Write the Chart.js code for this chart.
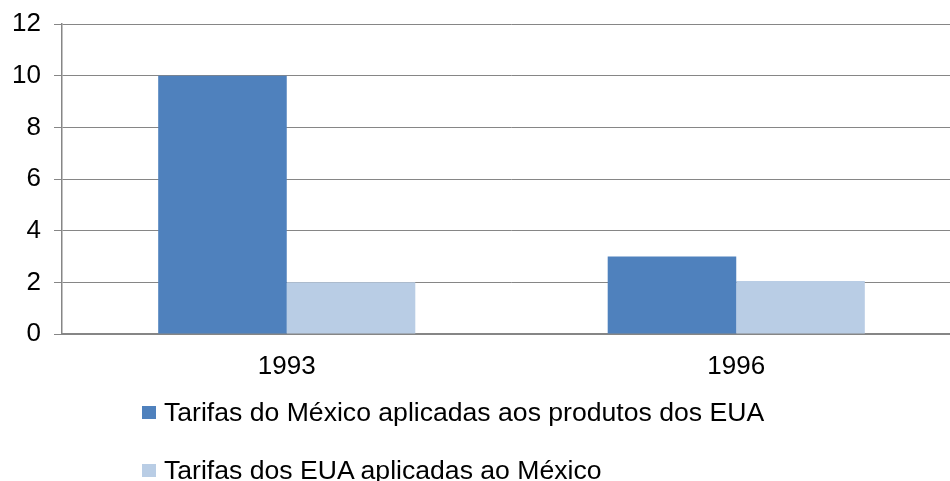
<!DOCTYPE html>
<html>
<head>
<meta charset="utf-8">
<script src="https://cdn.jsdelivr.net/npm/chart.js@4"></script>
<style>
  html, body { margin: 0; padding: 0; background: #fff; overflow: hidden; }
  #wrap { position: relative; width: 950px; height: 481px; overflow: hidden; }
  #chart { position: absolute; left: 0; top: 0; }
  #legend { position: absolute; left: 142px; top: 0; font-family: "Liberation Sans", Arial, sans-serif; font-size: 26.6px; color: #000; }
  .item { position: absolute; left: 0; white-space: nowrap; display: flex; align-items: center; height: 30px; }
  .box { width: 14px; height: 13px; margin-right: 8px; }
</style>
</head>
<body>
<div id="wrap">
  <canvas id="chart" width="961" height="481" style="width:961px;height:481px"></canvas>
  <div id="legend"></div>
</div>
<script>
const years = ['1993', '1996'];
const mexicoOnUs = [10, 3];
const usOnMexico = [2, 2.05];
const seriesNames = [
  'Tarifas do México aplicadas aos produtos dos EUA',
  'Tarifas dos EUA aplicadas ao México'
];
const seriesColors = ['#4F81BD', '#B9CDE5'];
const yTicks = [0, 2, 4, 6, 8, 10, 12];

const font = { family: '"Liberation Sans", Arial, sans-serif', size: 26 };
const gridGray = '#868686';

const chart = new Chart(document.getElementById('chart'), {
  type: 'bar',
  data: {
    labels: years,
    datasets: [
      { label: seriesNames[0], data: mexicoOnUs, backgroundColor: seriesColors[0] },
      { label: seriesNames[1], data: usOnMexico, backgroundColor: seriesColors[1] }
    ]
  },
  options: {
    responsive: false,
    animation: false,
    layout: { padding: { top: 24, left: 0, right: 0, bottom: 107 } },
    datasets: { bar: { categoryPercentage: 0.572, barPercentage: 1 } },
    plugins: { legend: { display: false }, tooltip: { enabled: false } },
    scales: {
      x: {
        grid: { display: false, drawTicks: false },
        border: { display: true, color: gridGray, width: 2 },
        ticks: { color: '#000', font, padding: 17 },
        afterFit: (s) => { s.height = 40; }
      },
      y: {
        min: 0,
        max: 12,
        afterBuildTicks: (s) => { s.ticks = yTicks.map((v) => ({ value: v })); },
        grid: { color: gridGray, lineWidth: 1, tickLength: 8 },
        border: { display: true, color: gridGray, width: 1.5 },
        ticks: { color: '#000', font, padding: 13 },
        afterFit: (s) => {
          s.width = 62;
          s.paddingTop = 0;
          s.paddingBottom = 0;
        }
      }
    }
  }
});

const legendEl = document.getElementById('legend');
const rowCenters = [412, 470];
chart.data.datasets.forEach((ds, i) => {
  const item = document.createElement('div');
  item.className = 'item';
  item.style.top = (rowCenters[i] - 15) + 'px';
  const box = document.createElement('span');
  box.className = 'box';
  box.style.background = ds.backgroundColor;
  const txt = document.createElement('span');
  txt.textContent = ds.label;
  item.appendChild(box);
  item.appendChild(txt);
  legendEl.appendChild(item);
});
</script>
</body>
</html>
